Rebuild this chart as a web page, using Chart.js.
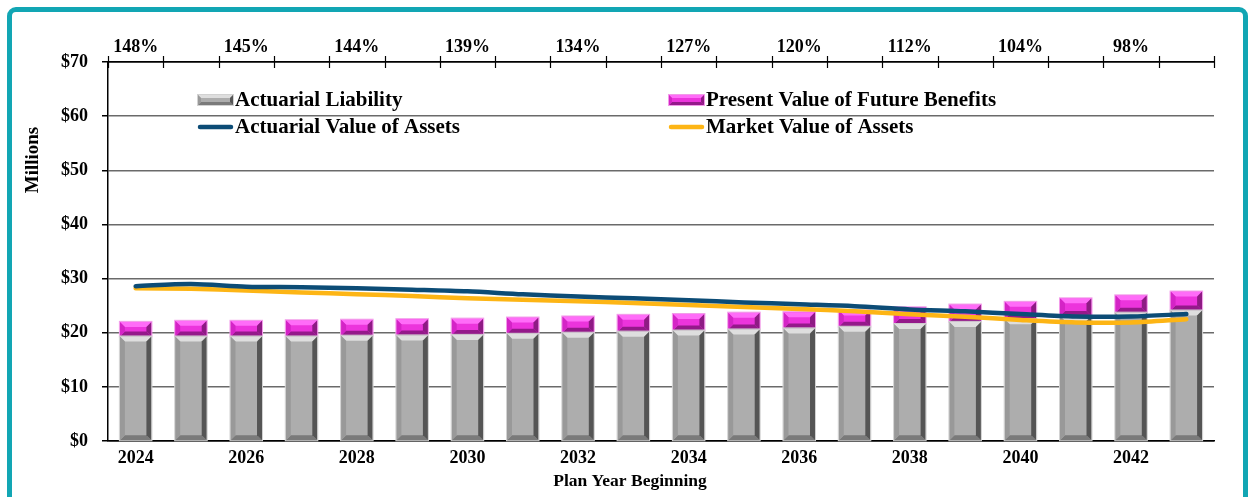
<!DOCTYPE html>
<html><head><meta charset="utf-8">
<script src="https://cdn.jsdelivr.net/npm/chart.js@4.4.1/dist/chart.umd.min.js"></script>
<style>
html,body{margin:0;padding:0;background:#fff;}
#wrap{position:relative;width:1249px;height:497px;overflow:hidden;background:#fff;}
#frame{position:absolute;left:7px;top:7px;width:1231px;height:540px;border:5px solid #12A6B4;border-radius:9px;pointer-events:none;}
canvas{position:absolute;left:0;top:0;}
</style></head><body>
<div id="wrap"><canvas id="c" width="1249" height="497"></canvas><div id="frame"></div></div>
<script>
const years = ['2024','2025','2026','2027','2028','2029','2030','2031','2032','2033','2034','2035','2036','2037','2038','2039','2040','2041','2042','2043'];
const fundedRatio = ['148%','145%','144%','139%','134%','127%','120%','112%','104%','98%'];
const actuarialLiability = [19.3,19.3,19.3,19.3,19.45,19.5,19.6,19.8,20.0,20.2,20.4,20.6,20.8,21.1,21.6,22.0,22.5,23.1,23.7,24.1];
const presentValueFutureBenefits = [22.0,22.2,22.2,22.3,22.4,22.5,22.6,22.8,23.0,23.3,23.45,23.7,23.8,24.1,24.7,25.2,25.7,26.35,26.9,27.6];
const actuarialValueAssets = [28.6,29.0,28.5,28.4,28.2,27.95,27.65,27.1,26.7,26.35,26.0,25.6,25.25,24.9,24.3,23.95,23.45,23.0,23.0,23.45];
const marketValueAssets = [28.2,28.1,27.8,27.45,27.1,26.8,26.35,26.1,25.8,25.5,25.1,24.75,24.4,23.95,23.4,22.95,22.35,21.9,21.9,22.5];
const yTicks = [0,10,20,30,40,50,60,70];

const FONT = "'Liberation Serif','Times New Roman',serif";
const GRAY = {face:'#adadad', top:'#dedede', bottom:'#7a7a7a', left:'#999999', right:'#555555', edge:'#d2d2d2'};
const PINK = {face:'#ec34dc', top:'#ff6cf8', bottom:'#94198a', left:'#d424c6', right:'#8e1b84', edge:'#f29ae9'};

function poly(ctx, pts, color){
  ctx.beginPath(); ctx.moveTo(pts[0][0], pts[0][1]);
  for (let i=1;i<pts.length;i++) ctx.lineTo(pts[i][0], pts[i][1]);
  ctx.closePath(); ctx.fillStyle = color; ctx.fill();
}
function bevelBar(ctx, x, top, bottom, w, pal, b){
  const l = x - w/2, r = x + w/2, h = bottom - top;
  const bb = Math.min(b, h/2.2, w/2.2);
  ctx.fillStyle = pal.face; ctx.fillRect(l, top, w, h);
  poly(ctx, [[l,top],[r,top],[r-bb,top+bb],[l+bb,top+bb]], pal.top);
  poly(ctx, [[l,bottom],[r,bottom],[r-bb,bottom-bb],[l+bb,bottom-bb]], pal.bottom);
  poly(ctx, [[l,top],[l+bb,top+bb],[l+bb,bottom-bb],[l,bottom]], pal.left);
  poly(ctx, [[r,top],[r-bb,top+bb],[r-bb,bottom-bb],[r,bottom]], pal.right);
  ctx.strokeStyle = pal.edge; ctx.lineWidth = 1; ctx.strokeRect(l-0.5, top-0.5, w+1, h+1);
}

const decor = {
  id:'decor',
  afterDatasetDraw(chart, args){
    const ds = chart.data.datasets[args.index];
    if (!ds.pal) return;
    const ctx = chart.ctx; ctx.save();
    args.meta.data.forEach(el => {
      const p = el.getProps(['x','y','base','width'], true);
      bevelBar(ctx, p.x, Math.min(p.y,p.base), Math.max(p.y,p.base), p.width, ds.pal, ds.bevel);
    });
    ctx.restore();
  },
  afterDraw(chart){
    const ctx = chart.ctx; ctx.save();
    const s2 = chart.scales.x2;
    ctx.strokeStyle = '#000'; ctx.lineWidth = 1.2;
    for (let i=0;i<=years.length;i++){
      const px = Math.round(s2.getPixelForValue(i-0.5)) + 0.5;
      ctx.beginPath(); ctx.moveTo(px, s2.bottom-6); ctx.lineTo(px, s2.bottom+6); ctx.stroke();
    }
    const dsets = chart.data.datasets;
    const L = [
      {ds:dsets[2], x:198, y:100},
      {ds:dsets[3], x:669, y:100},
      {ds:dsets[0], x:198, y:127},
      {ds:dsets[1], x:669, y:127}
    ];
    L.forEach(it => {
      if (it.ds.pal){
        bevelBar(ctx, it.x+17.5, it.y-5, it.y+5, 35, it.ds.pal, 3);
      } else {
        ctx.strokeStyle = it.ds.borderColor; ctx.lineWidth = 4.5; ctx.lineCap='round';
        ctx.beginPath(); ctx.moveTo(it.x+2, it.y); ctx.lineTo(it.x+33, it.y); ctx.stroke();
      }
      ctx.fillStyle = '#000'; ctx.font = 'bold 21px '+FONT; ctx.textBaseline='middle'; ctx.textAlign='left';
      ctx.fillText(it.ds.label, it.x+37, it.y+1);
    });
    ctx.fillStyle='#000'; ctx.font='bold 17.5px '+FONT; ctx.textAlign='center'; ctx.textBaseline='middle';
    ctx.fillText('Plan Year Beginning', 630, 481);
    ctx.save(); ctx.translate(33, 160); ctx.rotate(-Math.PI/2);
    ctx.font='bold 19px '+FONT; ctx.fillText('Millions', 0, 0); ctx.restore();
    ctx.restore();
  }
};

const tickFont = {family:FONT, size:18, weight:'bold'};
new Chart(document.getElementById('c'), {
  type:'bar',
  data:{labels:years, datasets:[
    {type:'line', label:'Actuarial Value of Assets', data:actuarialValueAssets, borderColor:'#0C4C76', backgroundColor:'#0C4C76', borderWidth:4.5, pointRadius:0, tension:0.3, stack:'ava', order:0, borderCapStyle:'round'},
    {type:'line', label:'Market Value of Assets', data:marketValueAssets, borderColor:'#FDB515', backgroundColor:'#FDB515', borderWidth:4.5, pointRadius:0, tension:0.3, stack:'mva', order:1, borderCapStyle:'round'},
    {label:'Actuarial Liability', data:actuarialLiability, backgroundColor:GRAY.face, stack:'bars', order:2, pal:GRAY, bevel:5, barPercentage:0.57, categoryPercentage:1},
    {label:'Present Value of Future Benefits', data:presentValueFutureBenefits.map((v,i)=>+(v-actuarialLiability[i]).toFixed(2)), backgroundColor:PINK.face, stack:'bars', order:3, pal:PINK, bevel:5, barPercentage:0.57, categoryPercentage:1}
  ]},
  options:{
    responsive:false, devicePixelRatio:1, animation:false,
    layout:{padding:{left:0,right:35,top:0,bottom:0}},
    plugins:{legend:{display:false}, tooltip:{enabled:false}},
    scales:{
      x:{stacked:true, position:'bottom', grid:{display:false}, border:{display:true,color:'#000',width:1.5},
         ticks:{autoSkip:false, maxRotation:0, color:'#000', font:tickFont, padding:-1, callback:(v,i)=> i%2===0 ? years[i] : ''},
         afterFit:s=>{s.height=56;}},
      x2:{type:'category', labels:years, position:'top', offset:true, grid:{display:false}, border:{display:true,color:'#000',width:1.5},
         ticks:{autoSkip:false, maxRotation:0, color:'#000', font:tickFont, padding:-4, callback:(v,i)=> i%2===0 ? fundedRatio[i/2] : ''},
         afterFit:s=>{s.height=62;}},
      y:{stacked:true, min:0, max:70, afterBuildTicks:s=>{s.ticks = yTicks.map(v=>({value:v}));},
         ticks:{color:'#000', font:tickFont, padding:14, callback:v=>'$'+v},
         grid:{color:c=> (c.tick && (c.tick.value===0||c.tick.value===70)) ? '#000' : '#6a6a6a', lineWidth:1.5, tickColor:'#000', tickLength:6},
         border:{color:'#000', width:1.5},
         afterFit:s=>{s.width=108;}}
    }
  },
  plugins:[decor]
});
</script>
</body></html>
